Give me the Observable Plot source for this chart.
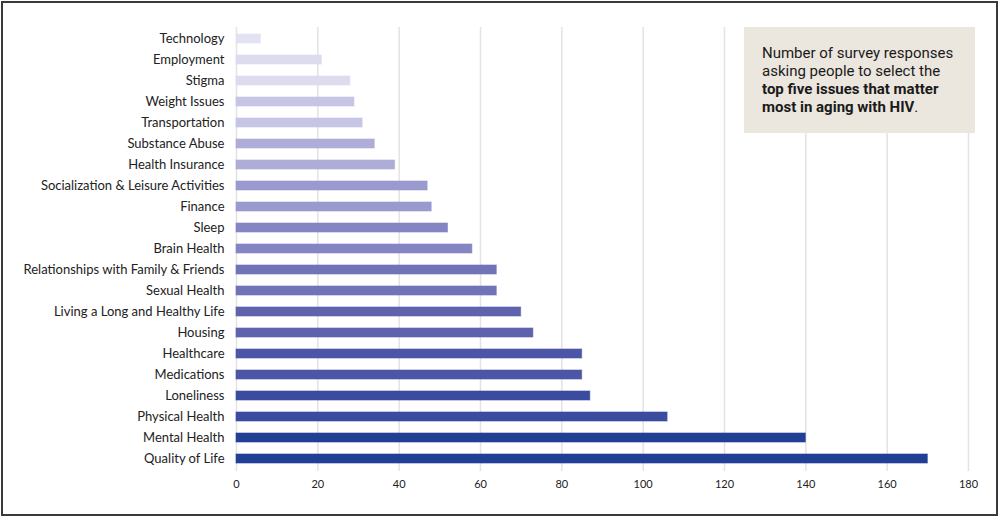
<!DOCTYPE html>
<html>
<head>
<meta charset="utf-8">
<script src="https://cdn.jsdelivr.net/npm/d3@7"></script>
<script src="https://cdn.jsdelivr.net/npm/@observablehq/plot@0.6"></script>
<style>
  html, body { margin: 0; padding: 0; background: #fff; }
  #wrap { position: relative; width: 1000px; height: 517px; overflow: hidden; }
  #frame { position: absolute; left: 1px; top: 1px; width: 997px; height: 515px; border: 2px solid #3a3a3a; box-sizing: border-box; pointer-events: none; }
  #note { position: absolute; left: 744px; top: 27px; width: 231px; height: 106px; background: #ebe6de; box-sizing: border-box; padding: 17px 4px 0 18px; font-family: Roboto, "Open Sans", sans-serif; font-size: 15px; line-height: 18px; color: #1a1a1a; white-space: nowrap; }
  #note b { font-weight: 700; }
</style>
</head>
<body>
<div id="wrap">
  <div id="chart"></div>
  <div id="note">Number of survey responses<br>asking people to select the<br><b>top five issues that matter</b><br><b>most in aging with HIV</b>.</div>
  <div id="frame"></div>
</div>
<script>
const issues = [
  "Technology", "Employment", "Stigma", "Weight Issues", "Transportation",
  "Substance Abuse", "Health Insurance", "Socialization & Leisure Activities",
  "Finance", "Sleep", "Brain Health", "Relationships with Family & Friends",
  "Sexual Health", "Living a Long and Healthy Life", "Housing", "Healthcare",
  "Medications", "Loneliness", "Physical Health", "Mental Health", "Quality of Life"
];
const responses = [6, 21, 28, 29, 31, 34, 39, 47, 48, 52, 58, 64, 64, 70, 73, 85, 85, 87, 106, 140, 170];
const xTicks = [0, 20, 40, 60, 80, 100, 120, 140, 160, 180];

const barColors = [
  "#e3e2f2", "#dddcef", "#dddcef", "#c6c6e4", "#c6c6e4",
  "#adadd8", "#adadd8", "#9a9acf", "#9a9acf", "#8585c3", "#8585c3",
  "#7272b7", "#7272b7", "#5f63ad", "#5f63ad", "#4d55a6", "#4d55a6",
  "#3a4ba0", "#3a4ba0", "#223f96", "#223f96"
];

const data = issues.map((d, i) => ({issue: d, value: responses[i], color: barColors[i]}));

const chart = Plot.plot({
  width: 1000,
  height: 517,
  marginLeft: 236,
  marginRight: 32,
  marginTop: 27,
  marginBottom: 46,
  style: {fontFamily: "Lato, sans-serif", fontSize: "13px", color: "#222", background: "transparent"},
  x: {domain: [0, 180], ticks: xTicks, tickSize: 0, tickPadding: 9, label: null},
  y: {domain: issues, paddingInner: 0.57, paddingOuter: 0.285, tickSize: 0, tickPadding: 12, label: null},
  marks: [
    Plot.ruleX(xTicks, {stroke: "#e3e3e3", strokeWidth: 1.5}),
    Plot.barX(data, {y: "issue", x: "value", fill: "color", stroke: "color", strokeOpacity: 0.6, strokeWidth: 1}),
    Plot.axisX({ticks: xTicks, tickSize: 0, tickPadding: 9, fontSize: 11, label: null}),
    Plot.axisY({tickSize: 0, tickPadding: 12, fontSize: 13, label: null})
  ]
});
document.getElementById("chart").appendChild(chart);
</script>
</body>
</html>
